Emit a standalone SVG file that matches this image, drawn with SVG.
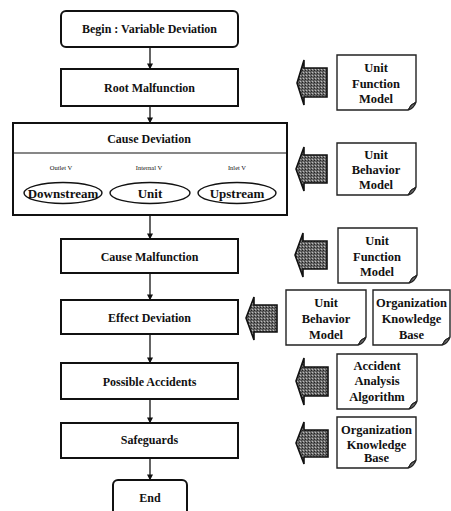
<svg xmlns="http://www.w3.org/2000/svg" width="451" height="511" viewBox="0 0 451 511">
<defs>
<style>
.box{fill:#fff;stroke:#111;stroke-width:2}
.doc{fill:#fff;stroke:#222;stroke-width:1.4}
.curl{fill:#333;stroke:#222;stroke-width:1}
.ell{fill:#fff;stroke:#111;stroke-width:1.4}
.bar{fill:url(#dots);stroke:#111;stroke-width:1.6;stroke-linejoin:miter}
.conn{stroke:#111;stroke-width:1.3;fill:none;marker-end:url(#ah)}
.t{font-family:"Liberation Serif","Times New Roman",serif;font-weight:bold;font-size:12px;fill:#111;text-anchor:middle;dominant-baseline:central}
.d{font-size:12.5px}
.e{font-size:13px}
.s{font-size:6.5px;font-weight:normal}
</style>
<pattern id="dots" width="3" height="3" patternUnits="userSpaceOnUse">
<rect width="3" height="3" fill="#6a6a6a"/>
<rect width="1" height="1" fill="#bdbdbd"/>
<rect x="2" y="1" width="1" height="1" fill="#222"/>
<rect x="1" y="2" width="1" height="1" fill="#444"/>
</pattern>
<marker id="ah" viewBox="0 0 8 8" refX="7.5" refY="4" markerWidth="6" markerHeight="6" markerUnits="userSpaceOnUse" orient="auto">
<path d="M0,0 L8,4 L0,8 Z" fill="#111"/>
</marker>
</defs>
<rect width="451" height="511" fill="#fff"/>

<g id="connectors">
<line class="conn" x1="150" y1="47" x2="150" y2="69"/>
<line class="conn" x1="150" y1="106" x2="150" y2="123"/>
<line class="conn" x1="150" y1="215" x2="150" y2="239"/>
<line class="conn" x1="150" y1="273" x2="150" y2="300"/>
<line class="conn" x1="150" y1="334" x2="150" y2="363"/>
<line class="conn" x1="150" y1="399" x2="150" y2="423"/>
<line class="conn" x1="150" y1="458" x2="150" y2="480"/>
</g>

<g id="begin">
<rect class="box" x="61" y="11" width="177" height="36" rx="5"/>
<text class="t" x="149.5" y="29">Begin : Variable Deviation</text>
</g>
<g id="root-malfunction">
<rect class="box" x="61" y="69" width="177" height="37"/>
<text class="t" x="149.5" y="88">Root Malfunction</text>
</g>
<g id="cause-deviation">
<rect class="box" x="13" y="123" width="274" height="92"/>
<line x1="13" y1="153" x2="287" y2="153" stroke="#111" stroke-width="1.2"/>
<text class="t" x="149" y="139">Cause Deviation</text>
<text class="t s" x="61" y="167">Outlet V</text>
<text class="t s" x="149" y="167">Internal V</text>
<text class="t s" x="237" y="167">Inlet V</text>
<ellipse class="ell" cx="63" cy="193" rx="39" ry="10.5"/>
<text class="t e" x="63" y="193">Downstream</text>
<ellipse class="ell" cx="150" cy="193" rx="40" ry="10.5"/>
<text class="t e" x="150" y="193">Unit</text>
<ellipse class="ell" cx="237" cy="193" rx="39" ry="10.5"/>
<text class="t e" x="237" y="193">Upstream</text>
</g>
<g id="cause-malfunction">
<rect class="box" x="61" y="239" width="177" height="34"/>
<text class="t" x="149.5" y="257">Cause Malfunction</text>
</g>
<g id="effect-deviation">
<rect class="box" x="61" y="300" width="177" height="34"/>
<text class="t" x="149.5" y="318">Effect Deviation</text>
</g>
<g id="possible-accidents">
<rect class="box" x="61" y="363" width="177" height="36"/>
<text class="t" x="149.5" y="382">Possible Accidents</text>
</g>
<g id="safeguards">
<rect class="box" x="61" y="423" width="177" height="35"/>
<text class="t" x="149.5" y="440">Safeguards</text>
</g>
<g id="end">
<rect class="box" x="113" y="480" width="74" height="40" rx="5"/>
<text class="t" x="150" y="498">End</text>
</g>

<g id="arrow1"><path class="bar" d="M297,83 L304,60 L304,68 L327,68 L327,97 L304,97 L304,105 Z"/></g>
<g id="arrow2"><path class="bar" d="M296,169 L304,147 L304,155 L327,155 L327,183 L304,183 L304,191 Z"/></g>
<g id="arrow3"><path class="bar" d="M295,255 L303,233 L303,241 L327,241 L327,269 L303,269 L303,277 Z"/></g>
<g id="arrow4"><path class="bar" d="M246,318 L254,297 L254,305 L277,305 L277,332 L254,332 L254,340 Z"/></g>
<g id="arrow6"><path class="bar" d="M296,381 L304,358 L304,367 L328,367 L328,396 L304,396 L304,405 Z"/></g>
<g id="arrow7"><path class="bar" d="M296,443 L304,422 L304,430 L328,430 L328,457 L304,457 L304,464 Z"/></g>

<g id="doc-unit-function-1">
<path class="doc" d="M337,55 H416 V102 Q414,108 408,110 H337 Z"/>
<path class="curl" d="M408,110 Q410,104 416,102 Q411,106 408,110 Z"/>
<text class="t d" x="376" y="68">Unit</text>
<text class="t d" x="376" y="84">Function</text>
<text class="t d" x="376" y="99">Model</text>
</g>
<g id="doc-unit-behavior-1">
<path class="doc" d="M337,143 H416 V187 Q414,193 408,195 H337 Z"/>
<path class="curl" d="M408,195 Q410,189 416,187 Q411,191 408,195 Z"/>
<text class="t d" x="376" y="155">Unit</text>
<text class="t d" x="376" y="170">Behavior</text>
<text class="t d" x="376" y="185">Model</text>
</g>
<g id="doc-unit-function-2">
<path class="doc" d="M338,228 H417 V275 Q415,281 409,283 H338 Z"/>
<path class="curl" d="M409,283 Q411,277 417,275 Q412,279 409,283 Z"/>
<text class="t d" x="377" y="241">Unit</text>
<text class="t d" x="377" y="257">Function</text>
<text class="t d" x="377" y="272">Model</text>
</g>
<g id="doc-unit-behavior-2">
<path class="doc" d="M286,290 H366 V337 Q364,343 358,345 H286 Z"/>
<path class="curl" d="M358,345 Q360,339 366,337 Q361,341 358,345 Z"/>
<text class="t d" x="326" y="303">Unit</text>
<text class="t d" x="326" y="319">Behavior</text>
<text class="t d" x="326" y="335">Model</text>
</g>
<g id="doc-org-knowledge-1">
<path class="doc" d="M373,290 H450 V337 Q448,343 442,345 H373 Z"/>
<path class="curl" d="M442,345 Q444,339 450,337 Q445,341 442,345 Z"/>
<text class="t d" x="411.5" y="303">Organization</text>
<text class="t d" x="411.5" y="319">Knowledge</text>
<text class="t d" x="411.5" y="335">Base</text>
</g>
<g id="doc-accident-analysis">
<path class="doc" d="M337,354 H417 V401 Q415,407 409,409 H337 Z"/>
<path class="curl" d="M409,409 Q411,403 417,401 Q412,405 409,409 Z"/>
<text class="t d" x="377" y="366">Accident</text>
<text class="t d" x="377" y="381">Analysis</text>
<text class="t d" x="377" y="397">Algorithm</text>
</g>
<g id="doc-org-knowledge-2">
<path class="doc" d="M337,417 H416 V460 Q414,466 408,468 H337 Z"/>
<path class="curl" d="M408,468 Q410,462 416,460 Q411,464 408,468 Z"/>
<text class="t d" x="376.5" y="430">Organization</text>
<text class="t d" x="376.5" y="445">Knowledge</text>
<text class="t d" x="376.5" y="458">Base</text>
</g>
</svg>
